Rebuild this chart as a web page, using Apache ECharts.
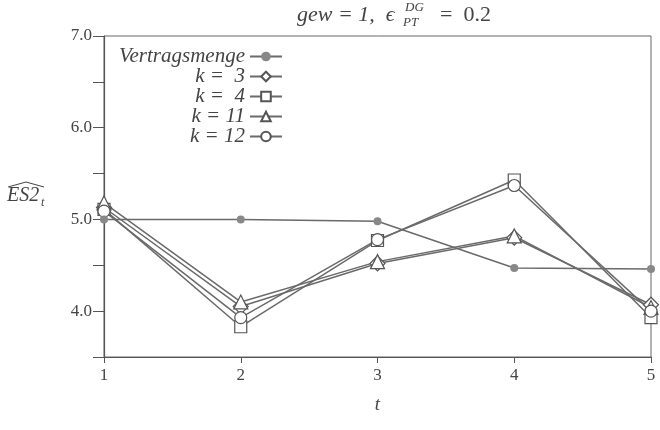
<!DOCTYPE html>
<html><head><meta charset="utf-8">
<script src="https://cdn.jsdelivr.net/npm/echarts@6/dist/echarts.min.js"></script>
<style>html,body{margin:0;padding:0;background:#fff}#c{width:660px;height:430px}</style>
</head><body><div id="c"></div>
<script>
const tValues = [1, 2, 3, 4, 5];
const seriesNames = ['Vertragsmenge', 'k =  3', 'k =  4', 'k = 11', 'k = 12'];
const vertragsmenge = [5.00, 5.00, 4.98, 4.47, 4.46];
const k3 = [5.13, 4.05, 4.52, 4.80, 4.07];
const k4 = [5.11, 3.83, 4.77, 5.43, 3.93];
const k11 = [5.18, 4.10, 4.54, 4.82, 4.04];
const k12 = [5.09, 3.93, 4.78, 5.37, 4.00];
const yTickLabels = ['4.0', '5.0', '6.0', '7.0'];

const font = '"Liberation Serif", "DejaVu Serif", serif';
const lineCol = '#6a6a6a';

function pairs(vals) { return tValues.map((t, i) => [t, vals[i]]); }
function mk(name, vals, symbol, size, filled) {
  return {
    name, type: 'line', data: pairs(vals), symbol, symbolSize: size,
    lineStyle: { color: lineCol, width: 1.5 },
    itemStyle: { color: filled ? '#888' : '#fff', borderColor: '#555', borderWidth: filled ? 0 : 1.2 },
    emphasis: { disabled: true }, z: filled ? 3 : 2
  };
}

const chart = echarts.init(document.getElementById('c'), null, { renderer: 'canvas' });
chart.setOption({
  animation: false,
  backgroundColor: '#fff',
  grid: { left: 104, right: 9, top: 36, bottom: 73, show: true, borderColor: '#666', borderWidth: 1 },
  legend: {
    orient: 'vertical', left: 114, top: 41, align: 'right',
    itemWidth: 32, itemHeight: 12, itemGap: -1,
    textStyle: { fontFamily: font, fontStyle: 'italic', fontSize: 21, color: '#444', width: 128, align: 'right' },
    data: seriesNames
  },
  xAxis: {
    type: 'value', min: 1, max: 5, interval: 1,
    axisLine: { lineStyle: { color: '#555', width: 1.2 } },
    axisTick: { length: 6, inside: false, lineStyle: { color: '#555' } },
    axisLabel: { fontFamily: font, fontSize: 17, color: '#444', margin: 10 },
    splitLine: { show: false },
    name: 't', nameLocation: 'middle', nameGap: 38,
    nameTextStyle: { fontFamily: font, fontStyle: 'italic', fontSize: 19, color: '#444' }
  },
  yAxis: {
    type: 'value', min: 3.5, max: 7, interval: 0.5,
    axisLine: { show: true, lineStyle: { color: '#555', width: 1.2 } },
    axisTick: { show: true, length: 11, lineStyle: { color: '#555' } },
    axisLabel: {
      fontFamily: font, fontSize: 17, color: '#444', margin: 12,
      formatter: v => { const s = v.toFixed(1); return yTickLabels.includes(s) ? s : ''; }
    },
    splitLine: { show: false }
  },
  graphic: [
    { type: 'text', left: 297, top: 4, style: { text: 'gew = 1,  ϵ', font: 'italic 22px ' + font, fill: '#444' } },
    { type: 'text', left: 405, top: 1, style: { text: 'DG', font: 'italic 13px ' + font, fill: '#444' } },
    { type: 'text', left: 403, top: 16, style: { text: 'PT', font: 'italic 13px ' + font, fill: '#444' } },
    { type: 'text', left: 440, top: 4, style: { text: '=  0.2', font: '22px ' + font, fill: '#444' } },
    { type: 'text', left: 7, top: 186, style: { text: 'ES2', font: 'italic 20px ' + font, fill: '#444' } },
    { type: 'text', left: 41, top: 197, style: { text: 't', font: 'italic 12px ' + font, fill: '#444' } },
    { type: 'polyline', shape: { points: [[8, 187], [26, 182], [44, 187]] }, style: { stroke: '#444', lineWidth: 1, fill: null } }
  ],
  series: [
    mk(seriesNames[0], vertragsmenge, 'circle', 8, true),
    mk(seriesNames[1], k3, 'diamond', 15, false),
    mk(seriesNames[2], k4, 'rect', 12, false),
    mk(seriesNames[3], k11, 'triangle', 14, false),
    mk(seriesNames[4], k12, 'circle', 12, false)
  ]
});
</script></body></html>
